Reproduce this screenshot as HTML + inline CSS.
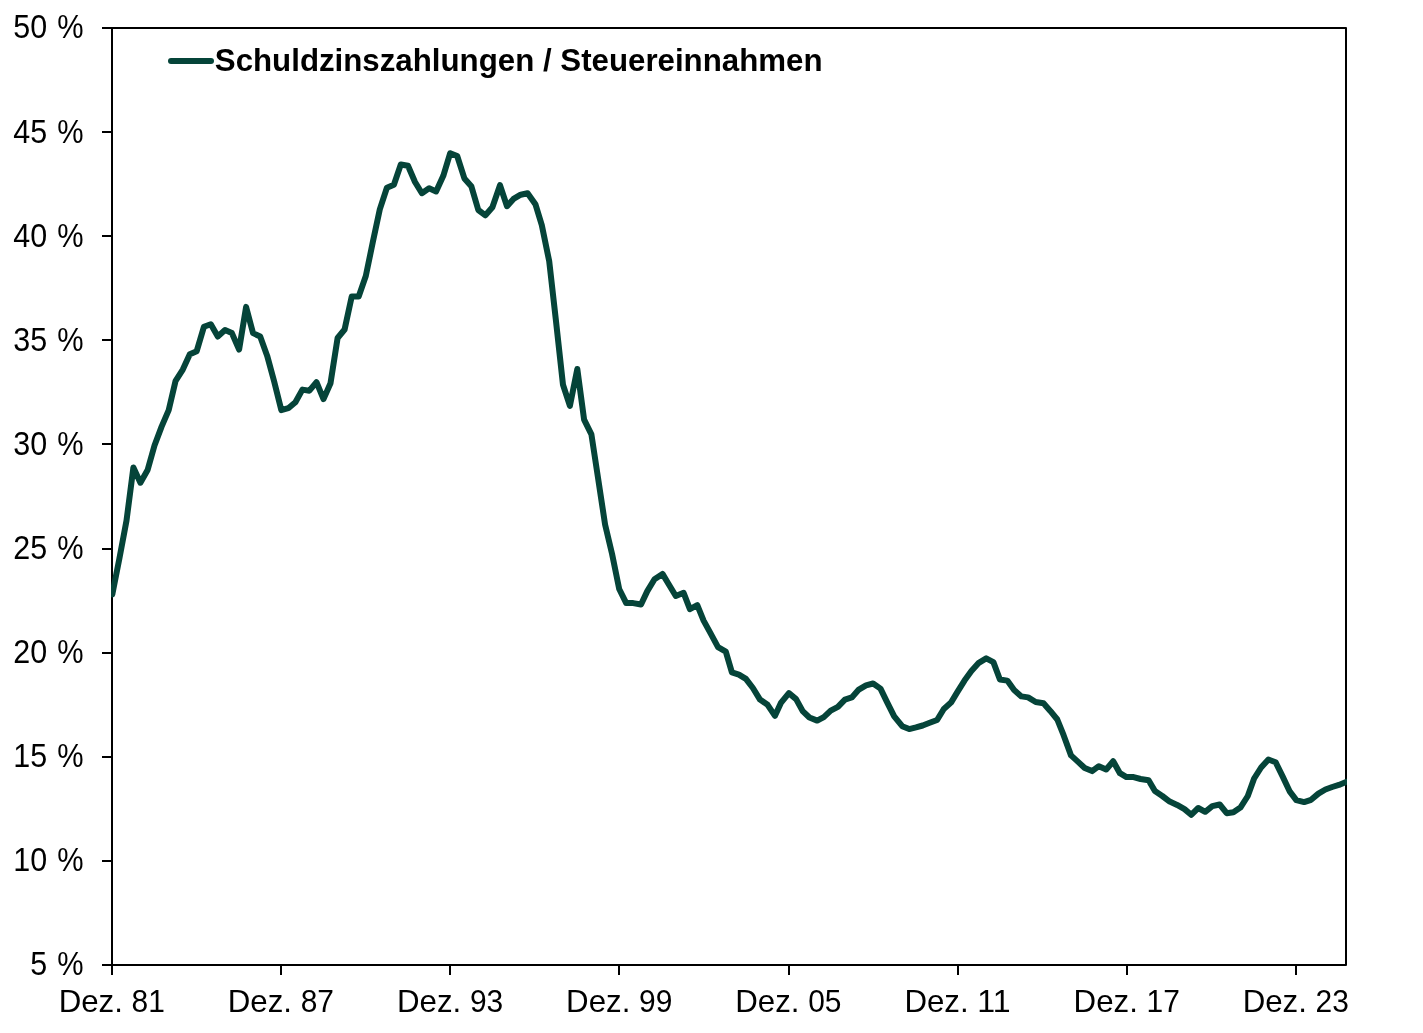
<!DOCTYPE html>
<html lang="de"><head><meta charset="utf-8"><title>Schuldzinszahlungen / Steuereinnahmen</title>
<style>
html,body{margin:0;padding:0;background:#fff;}
svg{display:block}
text{font-family:"Liberation Sans",Arial,sans-serif;font-size:31.25px;fill:#000}
.b{font-weight:bold}
</style></head><body>
<svg width="1423" height="1033" viewBox="0 0 1423 1033">
<defs><clipPath id="cp"><rect x="111" y="27" width="1236" height="939"/></clipPath></defs>
<rect width="1423" height="1033" fill="#fff"/>
<g stroke="#000" stroke-width="2" fill="none" stroke-linecap="butt">
<path stroke-linejoin="round" d="M102 28H1346V965H102M112 27V975"/>
<path d="M102 132H112M102 236H112M102 340H112M102 444H112M102 549H112M102 653H112M102 757H112M102 861H112M281 965V975M450 965V975M619 965V975M789 965V975M958 965V975M1127 965V975M1296 965V975"/></g>
<text transform="translate(83.5 38.4) scale(0.975 1.035)" text-anchor="end">50 <tspan dx="1.65" textLength="27.0" lengthAdjust="spacingAndGlyphs">%</tspan></text>
<text transform="translate(83.5 142.5) scale(0.975 1.035)" text-anchor="end">45 <tspan dx="1.65" textLength="27.0" lengthAdjust="spacingAndGlyphs">%</tspan></text>
<text transform="translate(83.5 246.6) scale(0.975 1.035)" text-anchor="end">40 <tspan dx="1.65" textLength="27.0" lengthAdjust="spacingAndGlyphs">%</tspan></text>
<text transform="translate(83.5 350.7) scale(0.975 1.035)" text-anchor="end">35 <tspan dx="1.65" textLength="27.0" lengthAdjust="spacingAndGlyphs">%</tspan></text>
<text transform="translate(83.5 454.8) scale(0.975 1.035)" text-anchor="end">30 <tspan dx="1.65" textLength="27.0" lengthAdjust="spacingAndGlyphs">%</tspan></text>
<text transform="translate(83.5 559.0) scale(0.975 1.035)" text-anchor="end">25 <tspan dx="1.65" textLength="27.0" lengthAdjust="spacingAndGlyphs">%</tspan></text>
<text transform="translate(83.5 663.1) scale(0.975 1.035)" text-anchor="end">20 <tspan dx="1.65" textLength="27.0" lengthAdjust="spacingAndGlyphs">%</tspan></text>
<text transform="translate(83.5 767.2) scale(0.975 1.035)" text-anchor="end">15 <tspan dx="1.65" textLength="27.0" lengthAdjust="spacingAndGlyphs">%</tspan></text>
<text transform="translate(83.5 871.3) scale(0.975 1.035)" text-anchor="end">10 <tspan dx="1.65" textLength="27.0" lengthAdjust="spacingAndGlyphs">%</tspan></text>
<text transform="translate(83.5 975.4) scale(0.975 1.035)" text-anchor="end">5 <tspan dx="1.65" textLength="27.0" lengthAdjust="spacingAndGlyphs">%</tspan></text>
<text x="111.8" y="1012" text-anchor="middle">Dez. <tspan textLength="33.3" lengthAdjust="spacingAndGlyphs">81</tspan></text>
<text x="280.9" y="1012" text-anchor="middle">Dez. <tspan textLength="33.3" lengthAdjust="spacingAndGlyphs">87</tspan></text>
<text x="450.1" y="1012" text-anchor="middle">Dez. <tspan textLength="33.3" lengthAdjust="spacingAndGlyphs">93</tspan></text>
<text x="619.2" y="1012" text-anchor="middle">Dez. <tspan textLength="33.3" lengthAdjust="spacingAndGlyphs">99</tspan></text>
<text x="788.4" y="1012" text-anchor="middle">Dez. <tspan textLength="33.3" lengthAdjust="spacingAndGlyphs">05</tspan></text>
<text x="957.5" y="1012" text-anchor="middle">Dez. <tspan textLength="33.3" lengthAdjust="spacingAndGlyphs">11</tspan></text>
<text x="1126.7" y="1012" text-anchor="middle">Dez. <tspan textLength="33.3" lengthAdjust="spacingAndGlyphs">17</tspan></text>
<text x="1295.8" y="1012" text-anchor="middle">Dez. <tspan textLength="33.3" lengthAdjust="spacingAndGlyphs">23</tspan></text>
<path d="M112.3 594.4 L119.4 558.5 L126.5 520.6 L133.4 467.5 L140.4 482.7 L147.6 470.0 L154.5 445.5 L161.6 426.6 L168.7 410.1 L175.6 380.8 L182.8 369.6 L189.8 354.2 L196.7 351.2 L203.9 326.8 L210.8 324.2 L217.8 336.5 L225.0 330.1 L231.9 333.1 L239.1 349.6 L246.1 306.9 L253.0 333.1 L260.2 336.5 L267.2 355.9 L274.1 381.2 L281.3 410.1 L288.3 408.2 L295.4 402.2 L302.4 389.6 L309.4 390.7 L316.5 382.2 L323.5 399.1 L330.5 383.2 L337.6 338.0 L344.6 329.5 L351.7 296.6 L358.7 296.6 L365.8 276.0 L372.8 242.2 L379.8 209.4 L386.9 187.8 L393.9 184.8 L400.8 164.5 L408.0 165.8 L415.0 182.0 L421.9 193.2 L429.1 188.3 L436.1 191.5 L443.3 175.8 L450.2 153.2 L457.2 156.0 L464.4 178.4 L471.3 186.2 L478.3 210.0 L485.4 215.3 L492.4 207.3 L500.0 185.2 L507.0 206.2 L513.5 198.9 L520.7 194.7 L527.6 193.2 L535.4 204.2 L541.8 225.2 L549.2 261.2 L555.8 319.4 L563.0 384.8 L569.9 405.9 L577.3 369.0 L584.1 419.6 L591.4 434.4 L598.4 480.4 L605.1 524.6 L612.1 554.1 L619.2 589.0 L626.2 603.1 L633.2 603.1 L641.0 604.5 L647.3 591.1 L654.5 579.2 L662.5 573.9 L668.4 583.8 L675.8 596.0 L683.6 592.8 L689.9 609.1 L697.3 605.2 L703.6 620.6 L710.6 633.4 L718.0 647.1 L725.8 651.6 L731.9 672.4 L738.9 674.6 L745.9 678.9 L752.9 688.0 L760.0 699.6 L767.6 704.8 L775.0 715.8 L781.1 702.6 L788.9 693.1 L796.1 699.1 L802.7 711.1 L809.4 717.5 L817.2 720.6 L823.8 717.1 L830.7 710.6 L837.9 706.9 L844.9 699.6 L851.8 697.4 L858.8 689.6 L866.0 685.4 L873.1 683.5 L880.5 688.6 L886.8 701.6 L894.2 716.4 L902.2 726.2 L909.2 729.1 L916.0 727.4 L922.7 725.5 L929.7 722.8 L937.1 720.0 L943.8 709.0 L951.0 702.6 L957.3 692.1 L964.5 680.6 L971.4 671.1 L978.8 662.8 L986.2 658.4 L993.4 662.1 L999.9 679.5 L1007.3 680.6 L1014.1 690.1 L1021.4 696.4 L1028.1 697.4 L1035.7 702.0 L1043.5 703.2 L1050.5 711.2 L1057.3 719.5 L1063.6 735.2 L1071.0 755.4 L1077.3 761.1 L1084.7 768.0 L1092.1 771.1 L1098.8 766.2 L1106.2 769.5 L1113.2 761.2 L1119.9 773.2 L1126.5 777.1 L1133.6 777.1 L1140.6 779.0 L1148.6 780.2 L1154.9 791.1 L1162.3 796.0 L1169.7 801.6 L1177.1 804.9 L1184.5 809.1 L1191.2 814.8 L1198.2 808.0 L1205.2 811.8 L1212.3 806.2 L1219.7 804.5 L1226.7 813.2 L1233.4 812.2 L1240.4 807.6 L1247.8 796.0 L1254.1 778.5 L1261.1 767.5 L1268.4 759.5 L1275.6 762.2 L1282.6 776.4 L1289.5 791.1 L1296.3 800.1 L1304.1 802.1 L1311.1 799.8 L1318.4 793.6 L1325.4 789.5 L1332.2 787.0 L1338.9 784.9 L1346.1 781.9" fill="none" stroke="#054439" stroke-width="6" stroke-linejoin="round" stroke-linecap="round" clip-path="url(#cp)"/>
<path d="M171 61H211" fill="none" stroke="#054439" stroke-width="6" stroke-linecap="round"/>
<text class="b" x="214.8" y="70.6">Schuldzinszahlungen / Steuereinnahmen</text>
</svg></body></html>
